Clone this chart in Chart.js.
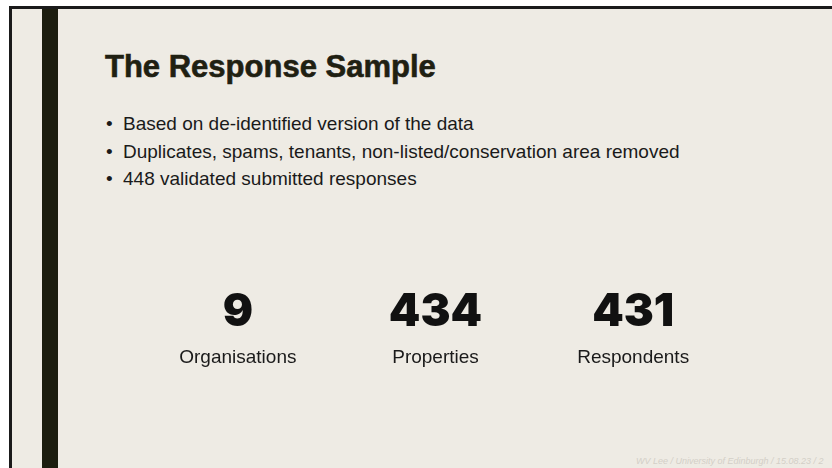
<!DOCTYPE html>
<html lang="en">
<head>
    <meta charset="UTF-8">
    <title>The Response Sample</title>
    <script src="https://cdn.jsdelivr.net/npm/chart.js"></script>
    <style>
        html, body {
            margin: 0;
            padding: 0;
            width: 832px;
            height: 468px;
            overflow: hidden;
            background-color: #ffffff;
        }

        .slide {
            position: absolute;
            left: 9px;
            top: 6px;
            width: 900px;
            height: 500px;
            border-left: 3px solid #1a1a1a;
            border-top: 3px solid #1a1a1a;
            background-color: #eeebe4;
            font-family: "Liberation Sans", Arial, sans-serif;
            color: #1a1a1a;
        }

        .side-bar {
            position: absolute;
            left: 30px;
            top: 0;
            width: 16px;
            height: 100%;
            background-color: #1c1d0f;
        }

        .title {
            position: absolute;
            left: 93px;
            top: 42px;
            font-size: 31px;
            line-height: 31px;
            font-weight: bold;
            color: #1f2012;
            -webkit-text-stroke: 0.6px #1f2012;
            white-space: nowrap;
        }

        .bullets {
            position: absolute;
            left: 94px;
            top: 101px;
            margin: 0;
            padding: 0;
            list-style: none;
            font-size: 19px;
            line-height: 27.5px;
            white-space: nowrap;
        }

        .bullets li::before {
            content: "\2022";
            display: inline-block;
            width: 17px;
        }

        .footer {
            position: absolute;
            left: 624px;
            top: 447px;
            font-size: 9px;
            font-style: italic;
            color: #d3cfc7;
            white-space: nowrap;
        }

        #statsChart {
            position: absolute;
            left: 127px;
            top: 264px;
        }
    </style>
</head>
<body>
    <div class="slide">
        <div class="side-bar"></div>
        <div class="title">The Response Sample</div>
        <ul class="bullets">
            <li>Based on de-identified version of the data</li>
            <li>Duplicates, spams, tenants, non-listed/conservation area removed</li>
            <li>448 validated submitted responses</li>
        </ul>
        <canvas id="statsChart" width="593" height="120"></canvas>
        <div class="footer">WV Lee / University of Edinburgh / 15.08.23 / 2</div>
    </div>

    <script>
        // Headline figures
        const statLabels = ['Organisations', 'Properties', 'Respondents'];
        const statValues = [9, 434, 431];

        // draws the big number and its caption for each category
        const statText = {
            id: 'statText',
            afterDatasetsDraw(chart) {
                const ctx = chart.ctx;
                const x = chart.scales.x;
                const top = chart.chartArea.top;
                ctx.save();
                ctx.textAlign = 'center';
                ctx.textBaseline = 'alphabetic';
                chart.data.datasets[0].data.forEach(function(v, i) {
                    const px = x.getPixelForValue(i);
                    ctx.fillStyle = '#111111';
                    ctx.font = '900 45px Inter, "DejaVu Sans", sans-serif';
                    ctx.fillText(String(v), px, top + 53);
                    ctx.fillStyle = '#1a1a1a';
                    ctx.font = '19px "Liberation Sans", Arial, sans-serif';
                    ctx.fillText(chart.data.labels[i], px, top + 90);
                });
                ctx.restore();
            }
        };

        new Chart(document.getElementById('statsChart'), {
            type: 'line',
            data: {
                labels: statLabels,
                datasets: [{
                    data: statValues,
                    showLine: false,
                    pointRadius: 0,
                    pointHoverRadius: 0
                }]
            },
            options: {
                responsive: false,
                animation: false,
                devicePixelRatio: 1,
                layout: { padding: 0 },
                plugins: {
                    legend: { display: false },
                    tooltip: { enabled: false }
                },
                scales: {
                    x: { type: 'category', offset: true, display: false },
                    y: { display: false, min: 0, max: 500 }
                }
            },
            plugins: [statText]
        });
    </script>
</body>
</html>
